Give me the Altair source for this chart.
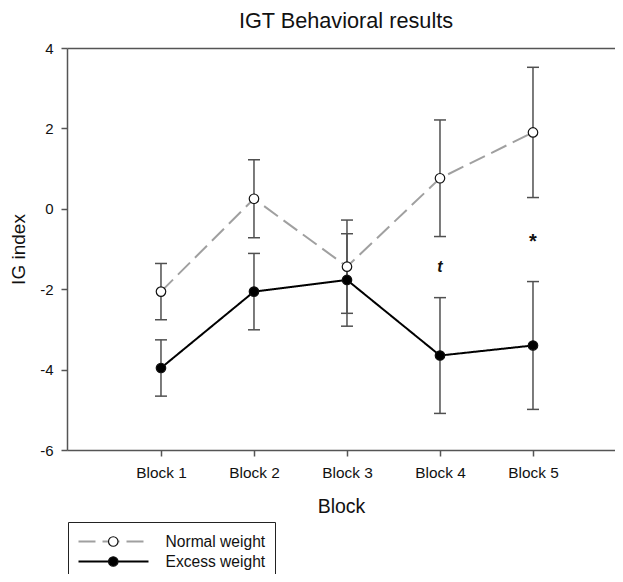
import altair as alt
import pandas as pd

# ---- data ----
blocks = ["Block 1", "Block 2", "Block 3", "Block 4", "Block 5"]
series = ["Normal weight", "Excess weight"]
normal_mean = [-2.06, 0.25, -1.44, 0.76, 1.90]
normal_sem = [0.70, 0.97, 1.16, 1.45, 1.62]
excess_mean = [-3.96, -2.06, -1.77, -3.65, -3.40]
excess_sem = [0.70, 0.95, 1.15, 1.44, 1.59]
y_ticks = [-6, -4, -2, 0, 2, 4]
annot_blocks = ["Block 4", "Block 5"]
annot_text = ["t", "*"]
annot_y = [-1.57, -0.97]

rows = []
for s, means, sems in [(series[0], normal_mean, normal_sem), (series[1], excess_mean, excess_sem)]:
    for b, m, e in zip(blocks, means, sems):
        rows.append({"block": b, "series": s, "mean": m, "lo": m - e, "hi": m + e})
df = pd.DataFrame(rows)
caps = pd.concat([
    df[["block", "series", "lo"]].rename(columns={"lo": "val"}),
    df[["block", "series", "hi"]].rename(columns={"hi": "val"}),
])
ann = pd.DataFrame({"block": annot_blocks, "label": annot_text, "y": annot_y})

FONT = "Liberation Sans"
AX = "#555555"

W, H = 548, 402
xscale = alt.Scale(type="point", domain=blocks, padding=0.9462, align=0.534)
yscale = alt.Scale(domain=[-6, 4], nice=False, zero=False)

x_bottom = alt.Axis(
    title="Block", titleFont=FONT, titleFontSize=19.5, titleFontWeight="normal",
    titleColor="#111", titleY=62, titleBaseline="alphabetic",
    labelFont=FONT, labelFontSize=15.4, labelColor="#111", labelPadding=9.5,
    labelAngle=0, tickSize=6, tickColor=AX, tickWidth=1.5,
    domainColor=AX, domainWidth=1.5, grid=False,
)
x_top = alt.Axis(orient="top", labels=False, ticks=False, title=None,
                 domainColor=AX, domainWidth=1.5, grid=False)
y_axis = alt.Axis(
    title="IG index", titleFont=FONT, titleFontSize=19, titleFontWeight="normal",
    titleColor="#111", titleX=-42.5, titleY=H / 2, titleBaseline="alphabetic",
    titleAlign="center", titleAngle=270,
    values=y_ticks, labelExpr="datum.value + ''",
    labelFont=FONT, labelFontSize=15, labelColor="#111",
    labelPadding=8, tickSize=6, tickColor=AX, tickWidth=1.5,
    domainColor=AX, domainWidth=1.5, grid=False,
)

base = alt.Chart(df)

rules = base.mark_rule(color="#505050", strokeWidth=1.5).encode(
    x=alt.X("block:N", scale=xscale, axis=x_bottom),
    y=alt.Y("lo:Q", scale=yscale, axis=y_axis),
    y2="hi:Q",
)

cap_marks = alt.Chart(caps).mark_tick(
    color="#505050", thickness=1.5, size=12, orient="horizontal", opacity=1
).encode(
    x=alt.X("block:N", scale=xscale, axis=None),
    y=alt.Y("val:Q", scale=yscale),
)

legendA = alt.Legend(
    orient="none", legendX=1, legendY=474, title=None,
    symbolType="stroke", symbolSize=4900, symbolStrokeWidth=2,
    clipHeight=20, rowPadding=0, padding=9.5,
    strokeColor="#222222", fillColor="white",
    labelFont=FONT, labelFontSize=15.6, labelColor="#111", labelOffset=16,
)
lines = base.mark_line(strokeWidth=2).encode(
    x=alt.X("block:N", scale=xscale, axis=None),
    y=alt.Y("mean:Q", scale=yscale),
    color=alt.Color("series:N", scale=alt.Scale(domain=series, range=["#a0a0a0", "#000000"]), legend=legendA),
    strokeDash=alt.StrokeDash("series:N", scale=alt.Scale(domain=series, range=[[17, 7], [1, 0]]), legend=legendA),
)

legendB = alt.Legend(
    orient="none", legendX=1 + 35 - 4.75, legendY=474, title=None,
    symbolType="circle", symbolSize=90, symbolStrokeColor="#111111", symbolStrokeWidth=1.2,
    clipHeight=20, rowPadding=0, padding=9.5, labelExpr="''",
)
points = base.mark_point(shape="circle", filled=True, stroke="#111111", strokeWidth=1.2,
                         size=90, opacity=1).encode(
    x=alt.X("block:N", scale=xscale, axis=None),
    y=alt.Y("mean:Q", scale=yscale),
    fill=alt.Fill("series:N", sort=series, scale=alt.Scale(range=["#ffffff", "#000000"]), legend=legendB),
)

ann_base = alt.Chart(ann)
text_t = ann_base.transform_filter(alt.datum.label == "t").mark_text(
    font=FONT, fontWeight="bold", fontStyle="italic", fontSize=16,
    baseline="alphabetic", align="center", color="#111"
).encode(
    x=alt.X("block:N", scale=xscale, axis=x_top),
    y=alt.Y("y:Q", scale=yscale),
    text="label:N",
)
text_star = ann_base.transform_filter(alt.datum.label == "*").mark_text(
    font=FONT, fontWeight="bold", fontSize=20,
    baseline="alphabetic", align="center", color="#111"
).encode(
    x=alt.X("block:N", scale=xscale, axis=None),
    y=alt.Y("y:Q", scale=yscale),
    text="label:N",
)

chart = alt.layer(rules, cap_marks, lines, points, text_t, text_star).resolve_axis(
    x="independent"
).properties(
    width=W, height=H,
    title=alt.TitleParams("IGT Behavioral results", font=FONT, fontSize=21.7,
                          fontWeight="normal", color="#111", offset=12.5,
                          anchor="middle", dx=5, dy=4),
    autosize=alt.AutoSizeParams(type="none"),
    padding={"left": 59, "top": 40, "right": 0, "bottom": 124},
).configure_view(stroke=None)

chart.save("out.html", embed_options={"renderer": "svg", "actions": False})
